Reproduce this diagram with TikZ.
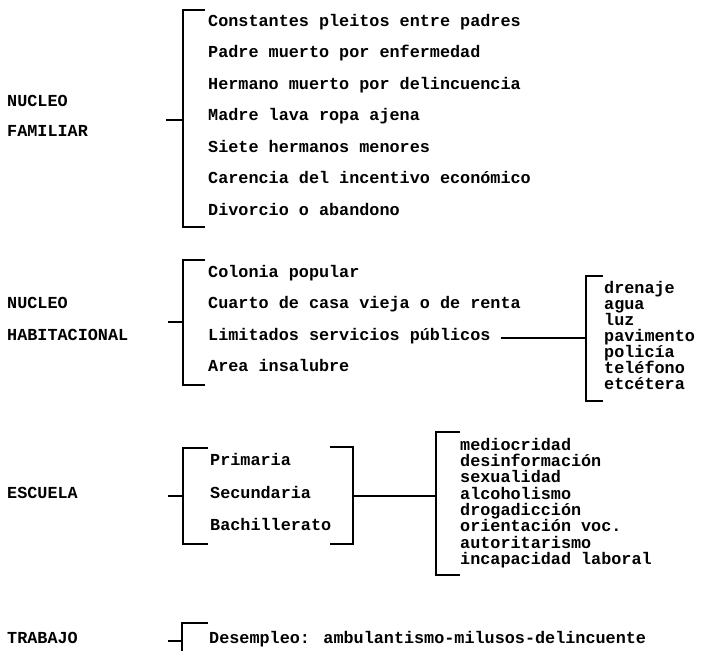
\documentclass[tikz,border=0pt]{standalone}
\usepackage{fontspec}
\setmainfont{Liberation Mono}
\usetikzlibrary{positioning}

% open bracket: x, top, bottom, tick end
\newcommand{\openbrak}[4]{\draw[brak] (#4,#2) -- (#1,#2) -- (#1,#3) -- (#4,#3);}

\begin{document}
\begin{tikzpicture}[x=1pt,y=-1pt,
  every node/.style={inner sep=0pt,anchor=west,
    font=\fontsize{16.8}{18}\selectfont\bfseries,
    text height=0.6em,text depth=0.15em},
  brak/.style={line width=1.5pt}]
  \useasboundingbox (0,0) rectangle (703,651);
  \def\tx{7}   % left edge of the titles
  \def\bx{183} % x of the left brackets
  \def\ix{208} % left edge of the items

  % NUCLEO FAMILIAR
  \node (fam1) at (\tx,104) {NUCLEO};
  \node (fam2) at (\tx,134) {FAMILIAR};
  \foreach \t [count=\i from 0] in {Constantes pleitos entre padres,
      Padre muerto por enfermedad, Hermano muerto por delincuencia,
      Madre lava ropa ajena, Siete hermanos menores,
      Carencia del incentivo económico, Divorcio o abandono}
    \node (f\i) at (\ix,{24+31.5*\i}) {\t};
  \openbrak{\bx}{10}{227}{205}
  \coordinate (famjoin) at (\bx,120);
  \draw[brak] (famjoin) -- ++(-17,0);

  % NUCLEO HABITACIONAL
  \node (hab1) at (\tx,306) {NUCLEO};
  \node (hab2) at (\tx,338) {HABITACIONAL};
  \node (h0) at (\ix,275) {Colonia popular};
  \node (h1) at (\ix,306) {Cuarto de casa vieja o de renta};
  \node (h2) at (\ix,338) {Limitados servicios públicos};
  \node (h3) at (\ix,369) {Area insalubre};
  \openbrak{\bx}{260}{385}{205}
  \coordinate (habjoin) at (\bx,322);
  \draw[brak] (habjoin) -- ++(-15,0);

  % servicios
  \foreach \t [count=\i from 0] in {drenaje, agua, luz, pavimento,
      policía, teléfono, etcétera}
    \node (s\i) at (604,{291+16*\i}) {\t};
  \openbrak{586}{276}{401}{603}
  \coordinate (srvjoin) at (586,338);
  \draw[brak] ([xshift=10pt]h2.east) -- (srvjoin);

  % ESCUELA
  \node (esc) at (\tx,496) {ESCUELA};
  \node (e0) at (210,463) {Primaria};
  \node (e1) at (210,496) {Secundaria};
  \node (e2) at (210,528) {Bachillerato};
  \openbrak{\bx}{448}{544}{208}
  \openbrak{353}{447}{544}{330}
  \coordinate (escjoin) at (\bx,496);
  \draw[brak] (escjoin) -- ++(-15,0);
  \foreach \t [count=\i from 0] in {mediocridad, desinformación,
      sexualidad, alcoholismo, drogadicción, orientación voc.,
      autoritarismo, incapacidad laboral}
    \node (d\i) at (460,{448+16.3*\i}) {\t};
  \openbrak{436}{432}{575}{460}
  \coordinate (escout) at (353,496);
  \coordinate (defjoin) at (436,496);
  \draw[brak] (escout) -- (defjoin);

  % TRABAJO
  \node (trab) at (\tx,641) {TRABAJO};
  \node (t0) at (209,641) {Desempleo: ambulantismo-milusos-delincuente};
  \draw[brak] (208,623) -- (182,623) -- (182,651);
  \coordinate (trabjoin) at (182,641);
  \draw[brak] (trabjoin) -- ++(-14,0);
\end{tikzpicture}
\end{document}
